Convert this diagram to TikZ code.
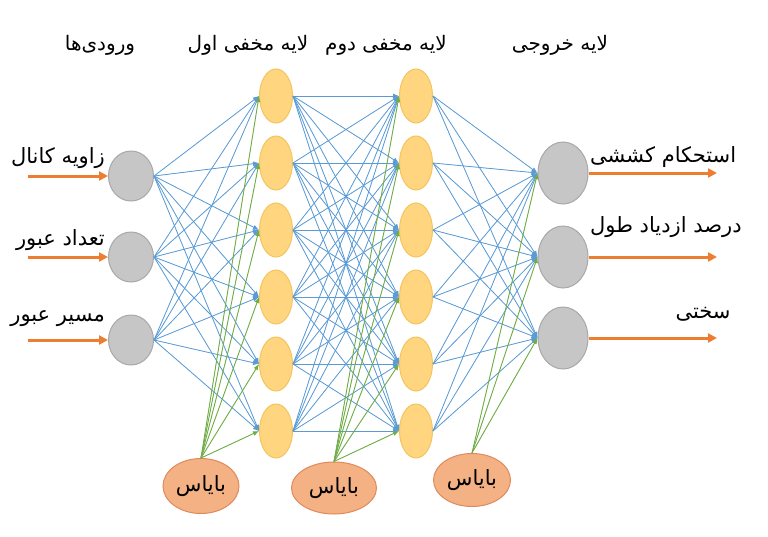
\documentclass[tikz,border=0pt]{standalone}
\usepackage{fontspec}
\usetikzlibrary{arrows.meta,shapes.geometric}
\newfontfamily\arabicfont[Script=Arabic]{DejaVu Sans}
\TeXXeTstate=1
\newcommand{\perstext}[1]{\arabicfont\beginR #1\endR}
\definecolor{linkblue}{HTML}{5B9BD5}
\definecolor{biasgreen}{HTML}{70AD47}
\definecolor{feedorange}{HTML}{ED7D31}
\definecolor{nodegray}{HTML}{C6C6C6}
\definecolor{grayedge}{HTML}{A8A8A8}
\definecolor{hidfill}{HTML}{FFD580}
\definecolor{hidedge}{HTML}{F4C55C}
\definecolor{biasfill}{HTML}{F4B183}
\definecolor{biasedge}{HTML}{E08A5C}
\tikzset{
    network/.style={
        x=1pt, y=-1pt,
        neuron/.style={ellipse, line width=1pt, inner sep=0pt},
        inlayer/.style={neuron, fill=nodegray, draw=grayedge, minimum width=45pt, minimum height=50pt},
        hidden/.style={neuron, fill=hidfill, draw=hidedge, minimum width=33pt, minimum height=54pt},
        outlayer/.style={neuron, fill=nodegray, draw=grayedge, minimum width=50pt, minimum height=62pt},
        biasnode/.style={neuron, fill=biasfill, draw=biasedge, font=\fontsize{21}{24}\selectfont},
        link/.style={-{Latex[length=6pt,width=5pt]}, draw=linkblue, fill=linkblue, line width=0.8pt},
        biaslink/.style={-{Latex[length=6pt,width=5pt]}, draw=biasgreen, fill=biasgreen, line width=0.9pt},
        feed/.style={-{Triangle[length=9pt,width=9pt]}, draw=feedorange, fill=feedorange, line width=3pt},
        caption/.style={font=\fontsize{21}{24}\selectfont, inner sep=0pt},
        layertitle/.style={font=\fontsize{20}{24}\selectfont, inner sep=0pt},
    },
}

\begin{document}
\begin{tikzpicture}[network]
    \useasboundingbox (0,0) rectangle (768,536);

    % layer titles
    \node[layertitle] (tin)  at (100,45) {\perstext{ورودی‌ها}};
    \node[layertitle] (thA)  at (248,45) {\perstext{لایه مخفی اول}};
    \node[layertitle] (thB)  at (386,45) {\perstext{لایه مخفی دوم}};
    \node[layertitle] (tout) at (560,45) {\perstext{لایه خروجی}};

    % neurons
    \node[inlayer] (inp1) at (131,176) {};
    \node[inlayer] (inp2) at (131,257) {};
    \node[inlayer] (inp3) at (131,340) {};
    \foreach \k in {1,...,6} {
        \node[hidden] (hidA\k) at (276,29+67*\k) {};
        \node[hidden] (hidB\k) at (416,29+67*\k) {};
    }
    \node[outlayer] (out1) at (563,173) {};
    \node[outlayer] (out2) at (563,257) {};
    \node[outlayer] (out3) at (563,338) {};

    \node[biasnode, minimum width=76pt, minimum height=55pt] (bias1) at (201,486) {\perstext{بایاس}};
    \node[biasnode, minimum width=85pt, minimum height=52pt] (bias2) at (334,488) {\perstext{بایاس}};
    \node[biasnode, minimum width=77pt, minimum height=53pt] (bias3) at (472,480) {\perstext{بایاس}};

    % weights
    \foreach \i in {1,2,3}
        \foreach \j in {1,...,6}
            \draw[link] (inp\i.east) -- (hidA\j.west);
    \foreach \i in {1,...,6}
        \foreach \j in {1,...,6}
            \draw[link] (hidA\i.east) -- (hidB\j.west);
    \foreach \i in {1,...,6}
        \foreach \j in {1,2,3}
            \draw[link] (hidB\i.east) -- (out\j.west);

    \foreach \j in {1,...,6} {
        \draw[biaslink] (bias1.north) -- (hidA\j.west);
        \draw[biaslink] (bias2.north) -- (hidB\j.west);
    }
    \foreach \j in {1,2,3}
        \draw[biaslink] (bias3.north) -- (out\j.west);

    % inputs and outputs
    \coordinate (src1) at (28,176);
    \coordinate (src2) at (28,257);
    \coordinate (src3) at (28,340);
    \coordinate (dst1) at (717,173);
    \coordinate (dst2) at (717,257);
    \coordinate (dst3) at (717,338);
    \foreach \k in {1,2,3} {
        \draw[feed] (src\k) -- (inp\k.west);
        \draw[feed] (out\k.east) -- (dst\k);
    }

    \node[caption, anchor=east] (lin1) at (105,158) {\perstext{زاویه کانال}};
    \node[caption, anchor=east] (lin2) at (105,240) {\perstext{تعداد عبور}};
    \node[caption, anchor=east] (lin3) at (105,319) {\perstext{مسیر عبور}};
    \node[caption, anchor=west] (lout1) at (590,157) {\perstext{استحکام کششی}};
    \node[caption, anchor=west] (lout2) at (590,227) {\perstext{درصد ازدیاد طول}};
    \node[caption] (lout3) at (703,314) {\perstext{سختی}};
\end{tikzpicture}
\end{document}
